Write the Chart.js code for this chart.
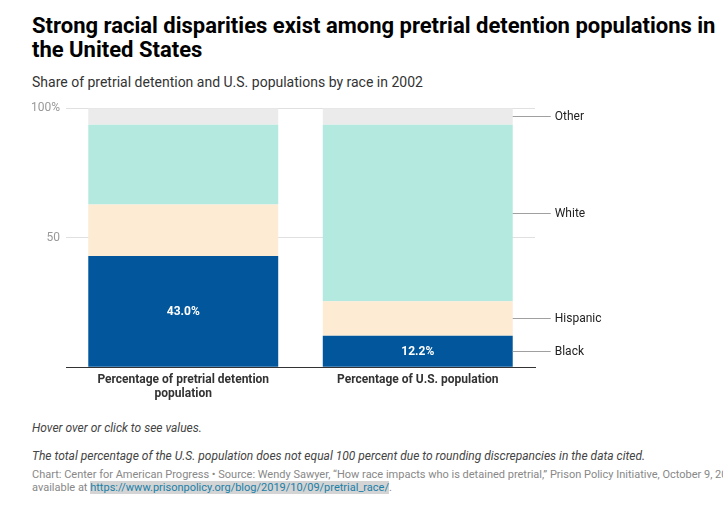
<!DOCTYPE html>
<html>
<head>
<meta charset="utf-8">
<script src="https://cdn.jsdelivr.net/npm/chart.js@4/dist/chart.umd.min.js"></script>
<style>
  html, body { margin:0; padding:0; background:#fff; }
  body { width:723px; height:521px; position:relative; overflow:hidden; font-family:Roboto, sans-serif; }
  #title { position:absolute; left:32px; top:14px; width:691px; font-size:22px; font-weight:700; line-height:24px; color:#000; }
  #subtitle { position:absolute; left:32px; top:73px; font-size:14px; color:#333; line-height:18px; }
  #wrap { position:absolute; left:0; top:95px; width:723px; height:315px; }
  .note { position:absolute; left:32px; font-size:12px; font-style:italic; color:#444; white-space:nowrap; line-height:14px; }
  #source { position:absolute; left:32px; top:468px; font-size:11px; color:#888; line-height:13px; white-space:nowrap; }
  #source a { color:#1a7fa8; text-decoration:none; background:#d4d4d4; }
</style>
</head>
<body>
<div id="title">Strong racial disparities exist among pretrial detention populations in the United States</div>
<div id="subtitle">Share of pretrial detention and U.S. populations by race in 2002</div>
<div id="wrap"><canvas id="c" width="723" height="315"></canvas></div>
<div class="note" style="top:421px">Hover over or click to see values.</div>
<div class="note" style="top:449px">The total percentage of the U.S. population does not equal 100 percent due to rounding discrepancies in the data cited.</div>
<div id="source">Chart: Center for American Progress • Source: Wendy Sawyer, “How race impacts who is detained pretrial,” Prison Policy Initiative, October 9, 2019,<br>available at <a href="#">https://www.prisonpolicy.org/blog/2019/10/09/pretrial_race/</a>.</div>
<script>
const categories = [["Percentage of pretrial detention", "population"], "Percentage of U.S. population"];
const seriesNames = ["Black", "Hispanic", "White", "Other"];
const blackVals = [43.0, 12.2];
const hispanicVals = [19.8, 13.3];
const whiteVals = [30.8, 68.1];
const otherVals = [6.4, 6.4];
const yTicks = [0, 50, 100];
const colors = ["#02579c", "#fdebd4", "#b4e9e0", "#ebebeb"];

Chart.defaults.font.family = "Roboto, sans-serif";

const labelPlugin = {
  id: "labels",
  afterDraw(chart) {
    const ctx = chart.ctx;
    ctx.save();
    const m0 = chart.getDatasetMeta(0);
    ctx.font = "bold 12px Roboto";
    ctx.fillStyle = "#fff";
    ctx.textAlign = "center";
    ctx.textBaseline = "middle";
    m0.data.forEach((el, i) => {
      const p = el.getProps(["x", "y", "base"], true);
      ctx.fillText(blackVals[i].toFixed(1) + "%", p.x, (p.y + p.base) / 2 + 0.5);
    });
    ctx.font = "12px Roboto";
    ctx.textAlign = "left";
    chart.data.datasets.forEach((ds, d) => {
      const el = chart.getDatasetMeta(d).data[1];
      const p = el.getProps(["x", "y", "base", "width"], true);
      const xr = p.x + p.width / 2;
      const ym = Math.round((p.y + p.base) / 2) + 0.5;
      ctx.strokeStyle = "#a0a0a0";
      ctx.lineWidth = 1;
      ctx.beginPath();
      ctx.moveTo(xr, ym);
      ctx.lineTo(xr + 38, ym);
      ctx.stroke();
      ctx.fillStyle = "#222";
      ctx.fillText(ds.label, xr + 42, ym);
    });
    ctx.restore();
  }
};

new Chart(document.getElementById("c"), {
  type: "bar",
  data: {
    labels: categories,
    datasets: [
      { label: seriesNames[0], data: blackVals, backgroundColor: colors[0] },
      { label: seriesNames[1], data: hispanicVals, backgroundColor: colors[1] },
      { label: seriesNames[2], data: whiteVals, backgroundColor: colors[2] },
      { label: seriesNames[3], data: otherVals, backgroundColor: colors[3] }
    ]
  },
  options: {
    responsive: false,
    animation: false,
    layout: { padding: { top: 12.3, right: 188, left: 0, bottom: 0 } },
    datasets: { bar: { barPercentage: 0.81, categoryPercentage: 1, borderWidth: 0 } },
    plugins: { legend: { display: false }, tooltip: { enabled: false } },
    scales: {
      x: {
        stacked: true,
        z: 1,
        grid: { display: false, drawTicks: false },
        border: { display: true, color: "#333", width: 1 },
        ticks: { color: "#333", font: { size: 12, weight: "bold", lineHeight: 1.17 }, padding: 6, maxRotation: 0 },
        afterFit(s) { s.height = 42.7; }
      },
      y: {
        stacked: true,
        z: 1,
        min: 0, max: 100,
        afterBuildTicks(s) { s.ticks = yTicks.map(v => ({ value: v })); },
        grid: {
          drawTicks: false,
          color: (c) => c.tick && c.tick.value === 0 ? "rgba(0,0,0,0)" : "rgba(0,0,0,0.12)"
        },
        border: { display: false },
        ticks: {
          color: "#999",
          font: { size: 12 },
          padding: 6,
          callback: (v) => v === 100 ? "100%" : (v === 0 ? "" : String(v))
        },
        afterFit(s) { s.width = 66; }
      }
    }
  },
  plugins: [labelPlugin]
});
</script>
</body>
</html>
